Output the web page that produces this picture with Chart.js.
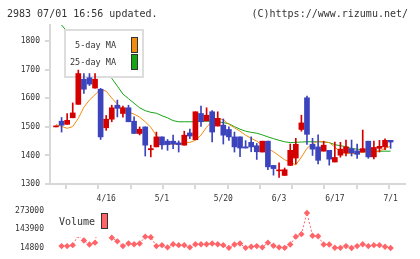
<!DOCTYPE html>
<html>
<head>
<meta charset="utf-8">
<script src="https://cdn.jsdelivr.net/npm/chart.js@4.4.1/dist/chart.umd.min.js"></script>
<style>
body { margin: 0; background: #fff; }
#wrap { position: relative; width: 420px; height: 259px; overflow: hidden; }
#priceChart { position: absolute; left: 0; top: 0; }
#volumeChart { position: absolute; left: 0; top: 200px; }
</style>
</head>
<body>
<div id="wrap">
  <canvas id="priceChart" width="420" height="205"></canvas>
  <canvas id="volumeChart" width="420" height="59"></canvas>
</div>
<script>
// Trading days shown on the chart
const dates = ['4/3','4/4','4/5','4/8','4/9','4/10','4/11','4/12','4/15','4/16',
  '4/17','4/18','4/19','4/22','4/23','4/24','4/25','4/26','4/30','5/1',
  '5/2','5/7','5/8','5/9','5/10','5/13','5/14','5/15','5/16','5/17',
  '5/20','5/21','5/22','5/23','5/24','5/27','5/28','5/29','5/30','5/31',
  '6/3','6/4','6/5','6/6','6/7','6/10','6/11','6/12','6/13','6/14',
  '6/17','6/18','6/19','6/20','6/21','6/24','6/25','6/26','6/27','6/28','7/1'];
const tickDates = ['4/16', '5/1', '5/20', '6/3', '6/17', '7/1'];

// Price data
const open = [1500,1520,1509,1532,1579,1667,1672,1636,1632,1497,
  1527,1576,1547,1567,1520,1477,1500,1420,1430,1465,
  1450,1450,1444,1436,1479,1455,1547,1521,1553,1503,
  1506,1491,1465,1465,1430,1446,1434,1412,1450,1365,
  1346,1330,1365,1391,1491,1602,1439,1430,1415,1418,
  1377,1401,1409,1424,1416,1412,1450,1395,1425,1430,1453];
const high = [1500,1533,1547,1584,1699,1687,1687,1687,1635,1540,
  1576,1594,1573,1576,1535,1500,1500,1436,1482,1465,
  1456,1471,1451,1485,1492,1553,1573,1567,1557,1553,
  1528,1500,1482,1465,1452,1465,1442,1450,1450,1365,
  1374,1356,1440,1460,1541,1608,1460,1472,1450,1418,
  1447,1446,1454,1454,1440,1489,1450,1450,1453,1458,1453];
const low = [1500,1482,1509,1532,1579,1617,1645,1636,1456,1488,
  1518,1535,1534,1518,1477,1472,1398,1395,1430,1422,
  1418,1424,1412,1436,1459,1455,1502,1521,1447,1503,
  1440,1453,1412,1396,1426,1413,1386,1412,1350,1331,
  1323,1330,1365,1370,1485,1439,1400,1370,1415,1366,
  1377,1394,1398,1398,1390,1412,1390,1388,1412,1420,1425];
const close = [1500,1506,1523,1549,1687,1632,1650,1667,1465,1527,
  1567,1565,1567,1518,1477,1492,1436,1424,1465,1437,
  1438,1440,1438,1471,1468,1553,1518,1541,1482,1530,
  1471,1465,1430,1426,1426,1430,1413,1450,1360,1354,
  1348,1350,1418,1439,1514,1474,1422,1383,1436,1387,
  1393,1422,1430,1409,1404,1424,1395,1428,1432,1453,1447];

// Moving averages
const ma5 = [1508,1502,1495,1501,1530,1569,1594,1613,1632,1625,
  1601,1580,1562,1551,1545,1534,1518,1499,1469,1446,
  1441,1439,1440,1443,1446,1453,1471,1499,1520,1531,
  1525,1509,1497,1485,1471,1460,1450,1436,1424,1413,
  1399,1385,1376,1367,1394,1425,1441,1450,1448,1445,
  1429,1413,1407,1406,1408,1411,1413,1411,1415,1425,1432];
const ma25 = [null,1857,1834,1812,1790,1770,1750,1730,1710,1690,
  1670,1643,1615,1599,1583,1567,1557,1551,1548,1539,
  1532,1522,1518,1518,1518,1518,1520,1520,1520,1518,
  1515,1511,1501,1492,1485,1481,1478,1472,1465,1459,
  1453,1448,1445,1446,1447,1448,1448,1448,1447,1445,
  1438,1434,1431,1424,1422,1420,1418,1416,1415,1415,1415];

// Volume
const volume = [null,28000,28000,34500,105000,67000,39000,52000,273000,140000,
  86000,61000,28000,45700,41000,45700,93600,89000,28000,34500,
  19400,41000,34500,34500,19400,41000,41000,41000,45700,41000,
  34500,16000,39000,45700,16000,23300,28000,19400,52000,30000,
  19400,16000,39000,93600,111000,258000,100000,96000,39000,39000,
  17000,16000,28000,14800,28000,41000,28000,34500,34500,23300,14800];
const volumeTicks = [14800, 143900, 273000];

const headerLeft = '2983 07/01 16:56 updated.';
const headerRight = '(C)https://www.rizumu.net/';

const upColor = '#d40000';
const downColor = '#3c44bd';
const ma5Color = '#f08c10';
const ma25Color = '#17a417';
const volColor = '#ff6468';
const axisColor = '#d8d8d8';
const textColor = '#333';
const monoFont = '"DejaVu Sans Mono", monospace';
const xMin = -1.076, xMax = 62.58;

const candleColors = open.map((o, i) => close[i] >= o ? upColor : downColor);
const bodies = open.map((o, i) => ({ x: i, y: [o, close[i]] }));
const wicks = low.map((l, i) => ({ x: i, y: [l, high[i]] }));
const toPoints = arr => arr.map((v, i) => ({ x: i, y: v }));

function drawPriceLegend(ctx) {
  ctx.save();
  ctx.fillStyle = '#fff';
  ctx.fillRect(65, 30, 78, 47);
  ctx.strokeStyle = '#dddddd';
  ctx.lineWidth = 2;
  ctx.strokeRect(65, 30, 78, 47);

  ctx.fillStyle = textColor;
  ctx.font = '8.5px ' + monoFont;
  ctx.textBaseline = 'middle';
  ctx.textAlign = 'right';
  ctx.fillText('5-day MA', 116, 46);
  ctx.fillText('25-day MA', 116, 63);

  ctx.lineWidth = 1;
  ctx.strokeStyle = '#333';
  ctx.fillStyle = ma5Color;
  ctx.fillRect(131.5, 37.5, 6, 15);
  ctx.strokeRect(131.5, 37.5, 6, 15);
  ctx.fillStyle = ma25Color;
  ctx.fillRect(131.5, 54.5, 6, 15);
  ctx.strokeRect(131.5, 54.5, 6, 15);
  ctx.restore();
}

// legend goes over the MA lines but under the candles, header text on top
const priceOverlay = {
  id: 'priceOverlay',
  beforeDatasetDraw(chart, args) {
    if (args.index === 1) drawPriceLegend(chart.ctx);
  },
  afterDraw(chart) {
    const ctx = chart.ctx;
    ctx.save();
    ctx.fillStyle = textColor;
    ctx.font = '10px ' + monoFont;
    ctx.textBaseline = 'alphabetic';
    ctx.textAlign = 'left';
    ctx.fillText(headerLeft, 7, 17);
    ctx.textAlign = 'right';
    ctx.fillText(headerRight, 408, 17);
    ctx.restore();
  }
};

const volumeOverlay = {
  id: 'volumeOverlay',
  afterDraw(chart) {
    const ctx = chart.ctx;
    ctx.save();
    ctx.fillStyle = '#fff';
    ctx.fillRect(56, 3, 54, 34);
    ctx.fillStyle = textColor;
    ctx.font = '10px ' + monoFont;
    ctx.textBaseline = 'middle';
    ctx.textAlign = 'left';
    ctx.fillText('Volume', 59, 22.5);
    ctx.fillStyle = volColor;
    ctx.strokeStyle = '#333';
    ctx.lineWidth = 1;
    ctx.fillRect(101.5, 13.5, 6, 15);
    ctx.strokeRect(101.5, 13.5, 6, 15);
    ctx.restore();
  }
};

new Chart(document.getElementById('priceChart').getContext('2d'), {
  type: 'bar',
  data: {
    datasets: [
      {
        label: 'body',
        data: bodies,
        backgroundColor: candleColors,
        borderWidth: 0,
        barThickness: 5,
        minBarLength: 1,
        grouped: false,
        order: 0
      },
      {
        label: 'wick',
        data: wicks,
        backgroundColor: candleColors,
        borderWidth: 0,
        barThickness: 1,
        minBarLength: 1,
        grouped: false,
        order: 1
      },
      {
        type: 'line',
        label: '5-day MA',
        data: toPoints(ma5),
        borderColor: ma5Color,
        borderWidth: 1,
        pointRadius: 0,
        tension: 0,
        order: 2
      },
      {
        type: 'line',
        label: '25-day MA',
        data: toPoints(ma25),
        borderColor: ma25Color,
        borderWidth: 1,
        pointRadius: 0,
        tension: 0,
        order: 3
      }
    ]
  },
  options: {
    responsive: false,
    animation: false,
    layout: { padding: { left: 0, right: 15, top: 25, bottom: 0 } },
    plugins: { legend: { display: false }, tooltip: { enabled: false } },
    scales: {
      x: {
        type: 'linear',
        position: 'bottom',
        weight: 1,
        min: xMin,
        max: xMax,
        offset: false,
        grid: { display: false, drawTicks: false },
        border: { display: false },
        afterBuildTicks: axis => {
          axis.ticks = tickDates.map(d => ({ value: dates.indexOf(d) }));
        },
        ticks: {
          callback: v => dates[v],
          autoSkip: false,
          maxRotation: 0,
          padding: 10,
          color: textColor,
          font: { family: monoFont, size: 8 }
        },
        afterFit: axis => { axis.height = 21; }
      },
      xt: {
        type: 'linear',
        position: 'bottom',
        weight: 0,
        min: 0,
        max: 11,
        offset: false,
        ticks: { display: false, stepSize: 1 },
        grid: { drawOnChartArea: false, drawTicks: true, tickLength: 5, color: axisColor, lineWidth: 2 },
        border: { display: true, color: axisColor, width: 2 },
        afterFit: axis => { axis.height = 0; }
      },
      y: {
        position: 'left',
        min: 1300,
        max: 1857,
        ticks: {
          stepSize: 100,
          includeBounds: false,
          padding: 5,
          callback: v => String(v),
          color: textColor,
          font: { family: monoFont, size: 8 }
        },
        grid: { drawOnChartArea: false, tickLength: 5, color: axisColor, lineWidth: 2 },
        border: { color: axisColor, width: 2 },
        afterFit: axis => { axis.width = 50; }
      }
    }
  },
  plugins: [priceOverlay]
});

new Chart(document.getElementById('volumeChart').getContext('2d'), {
  type: 'line',
  data: {
    datasets: [{
      label: 'Volume',
      data: toPoints(volume),
      borderColor: volColor,
      backgroundColor: volColor,
      borderWidth: 1,
      borderDash: [2, 2],
      pointStyle: 'rectRot',
      pointRadius: 3.2,
      pointBorderWidth: 0,
      pointBackgroundColor: volColor,
      spanGaps: false,
      tension: 0,
      clip: false
    }]
  },
  options: {
    responsive: false,
    animation: false,
    layout: { padding: { left: 0, right: 15, top: 8.7, bottom: 11 } },
    plugins: { legend: { display: false }, tooltip: { enabled: false } },
    scales: {
      x: {
        type: 'linear',
        display: false,
        min: xMin,
        max: xMax
      },
      y: {
        position: 'left',
        min: volumeTicks[0],
        max: volumeTicks[volumeTicks.length - 1],
        afterBuildTicks: axis => {
          axis.ticks = volumeTicks.map(v => ({ value: v }));
        },
        ticks: {
          padding: 6,
          callback: v => String(v),
          color: textColor,
          font: { family: monoFont, size: 8 }
        },
        grid: { display: false, drawTicks: false },
        border: { display: false },
        afterFit: axis => { axis.width = 50; }
      }
    }
  },
  plugins: [volumeOverlay]
});
</script>
</body>
</html>
